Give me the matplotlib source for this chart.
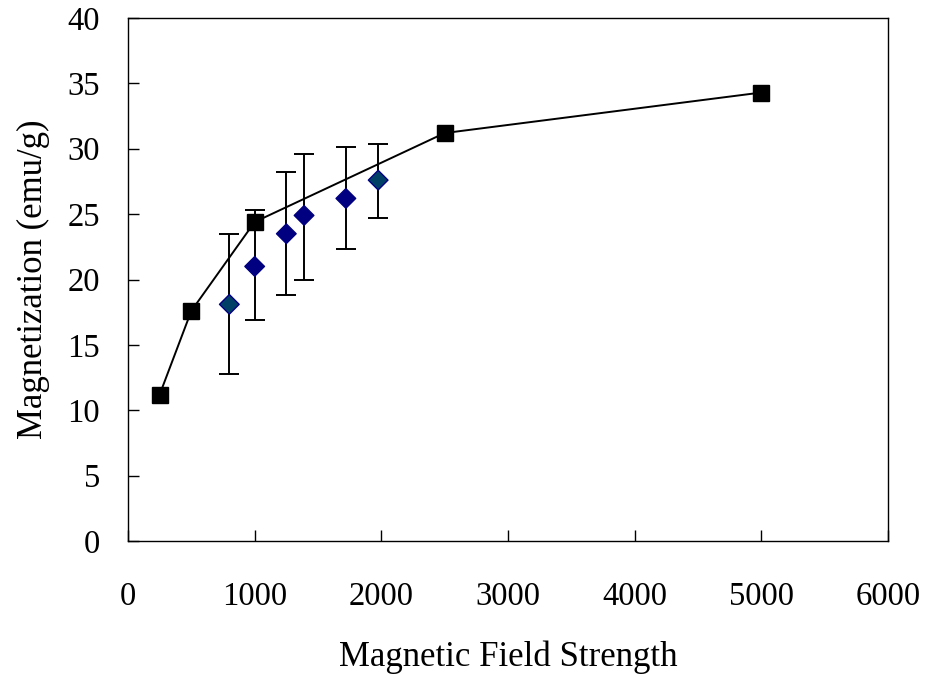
import matplotlib
matplotlib.use("Agg")
import matplotlib.pyplot as plt

# Data
fit_x = [250, 500, 1000, 2500, 5000]
fit_y = [11.2, 17.6, 24.4, 31.2, 34.3]

meas_x = [800, 1000, 1250, 1390, 1720, 1975]
meas_y = [18.1, 21.0, 23.5, 24.9, 26.2, 27.6]
err_low = [12.8, 16.9, 18.8, 20.0, 22.3, 24.7]
err_high = [23.5, 25.3, 28.2, 29.6, 30.1, 30.4]

x_ticks = [0, 1000, 2000, 3000, 4000, 5000, 6000]
y_ticks = [0, 5, 10, 15, 20, 25, 30, 35, 40]

plt.rcParams['font.family'] = ['Liberation Serif', 'DejaVu Serif']

fig = plt.figure(figsize=(9.42, 6.74), dpi=100)
ax = fig.add_axes([128/942, 1 - 541/674, (888-128)/942, (541-18)/674])

yerr = [[m - l for m, l in zip(meas_y, err_low)],
        [h - m for m, h in zip(meas_y, err_high)]]
ax.errorbar(meas_x, meas_y, yerr=yerr, fmt='none', ecolor='black',
            elinewidth=1.4, capsize=7, capthick=1.4, zorder=2)
faces = ['#003f66', '#000080', '#000080', '#000080', '#000080', '#003f66']
ax.scatter(meas_x, meas_y, marker='D', s=(10)**2, c=faces,
           edgecolors='#000080', linewidths=1.0, zorder=4)

ax.plot(fit_x, fit_y, color='black', lw=1.4, marker='s', ms=11,
        mfc='black', mec='black', zorder=3)

ax.set_xlim(0, 6000)
ax.set_ylim(0, 40)
ax.set_xticks(x_ticks)
ax.set_yticks(y_ticks)
ax.tick_params(axis='both', direction='in', length=8, width=1.0,
               labelsize=23.5)
ax.tick_params(axis='x', pad=29)
ax.tick_params(axis='y', pad=20)
for s in ax.spines.values():
    s.set_linewidth(1.0)
    s.set_color('black')

ax.set_xlabel('Magnetic Field Strength', fontsize=25, labelpad=21)
ax.set_ylabel('Magnetization (emu/g)', fontsize=25, labelpad=13)

fig.savefig('out.png', dpi=100)
